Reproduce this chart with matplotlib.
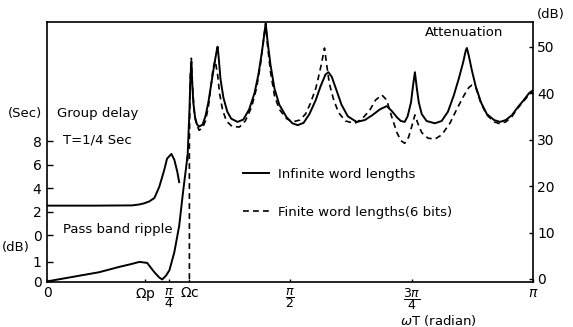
import numpy as np
import matplotlib
matplotlib.use("Agg")
import matplotlib.pyplot as plt

plt.rcParams['font.family'] = ['DejaVu Sans']
plt.rcParams['mathtext.fontset'] = 'dejavusans'

# Stop-band attenuation, infinite word lengths (omega/pi, dB)
att_inf_w = [0.289, 0.293, 0.295, 0.297, 0.299, 0.301, 0.305, 0.309, 0.313, 0.320,
             0.326, 0.332, 0.338, 0.344, 0.349, 0.351, 0.353, 0.357, 0.363, 0.371,
             0.379, 0.392, 0.404, 0.416, 0.427, 0.435, 0.441, 0.445, 0.450, 0.454,
             0.460, 0.468, 0.478, 0.493, 0.505, 0.516, 0.528, 0.540, 0.553, 0.563,
             0.573, 0.579, 0.586, 0.596, 0.606, 0.619, 0.637, 0.654, 0.670, 0.685,
             0.699, 0.709, 0.720, 0.728, 0.736, 0.742, 0.749, 0.753, 0.757, 0.761,
             0.765, 0.771, 0.781, 0.798, 0.812, 0.825, 0.837, 0.847, 0.856, 0.862,
             0.864, 0.868, 0.874, 0.882, 0.893, 0.905, 0.920, 0.932, 0.944, 0.957,
             0.969, 0.981, 0.992, 1.000]
att_inf_db = [25.6, 36.0, 43.0, 46.7, 42.0, 38.0, 34.5, 33.2, 32.8, 33.2,
              35.0, 38.0, 42.0, 46.0, 49.0, 50.0, 48.0, 43.0, 39.0, 36.0,
              34.5, 33.8, 34.3, 36.5, 40.0, 44.0, 48.0, 51.0, 55.0, 51.0,
              46.0, 41.0, 37.5, 34.8, 33.5, 33.1, 33.6, 35.5, 38.5, 41.5,
              44.0, 44.5, 43.5, 40.5, 37.5, 35.0, 33.8, 34.2, 35.3, 36.5,
              37.2, 36.2, 34.8, 34.0, 33.8, 35.0, 38.0, 41.5, 44.5, 41.0,
              38.0, 35.5, 34.0, 33.5, 34.0, 36.0, 39.5, 43.0, 46.5, 49.3,
              49.7, 48.0, 45.0, 41.5, 38.0, 35.5, 34.2, 33.8, 34.2, 35.3,
              37.0, 38.5, 40.0, 40.6]

# Stop-band attenuation, finite word lengths of 6 bits (omega/pi, dB)
att_fin_w = [0.293, 0.293, 0.295, 0.297, 0.299, 0.303, 0.307, 0.313, 0.320, 0.326,
             0.332, 0.338, 0.342, 0.346, 0.351, 0.355, 0.361, 0.369, 0.381, 0.396,
             0.408, 0.421, 0.431, 0.439, 0.445, 0.450, 0.454, 0.460, 0.468, 0.478,
             0.493, 0.505, 0.520, 0.532, 0.542, 0.553, 0.561, 0.567, 0.571, 0.575,
             0.581, 0.590, 0.600, 0.614, 0.633, 0.647, 0.664, 0.676, 0.689, 0.699,
             0.709, 0.720, 0.728, 0.736, 0.744, 0.751, 0.757, 0.763, 0.771, 0.784,
             0.798, 0.812, 0.829, 0.843, 0.858, 0.868, 0.874, 0.882, 0.893, 0.905,
             0.920, 0.932, 0.944, 0.957, 0.969, 0.981, 0.992, 1.000]
att_fin_db = [0.0, 30.0, 44.0, 47.5, 42.0, 36.0, 33.5, 32.0, 32.5, 34.0,
              37.0, 42.0, 45.5, 47.0, 44.0, 40.0, 36.5, 34.0, 32.8, 32.7,
              34.0, 37.0, 41.0, 46.0, 51.0, 55.0, 50.0, 44.5, 39.5, 36.5,
              34.5, 33.8, 34.2, 35.5, 37.8, 41.0, 44.5, 47.5, 49.7, 46.5,
              42.0, 38.5, 35.8, 34.0, 33.5, 34.3, 36.3, 38.5, 39.6, 38.5,
              35.0, 31.5, 29.8, 29.2, 30.5, 33.0, 35.3, 33.5, 31.5, 30.3,
              30.1, 31.0, 33.5, 36.5, 39.5, 41.2, 41.7, 41.3, 37.8, 35.3,
              33.8, 33.4, 33.8, 35.0, 36.8, 38.3, 39.7, 40.2]

# Group delay, T = 1/4 s (omega/pi, seconds)
gd_w = [0.0, 0.100, 0.175, 0.190, 0.200, 0.210, 0.221, 0.231, 0.241, 0.247,
        0.256, 0.262, 0.268, 0.272]
gd_sec = [2.5, 2.5, 2.52, 2.6, 2.7, 2.85, 3.15, 4.1, 5.5, 6.5,
          6.9, 6.4, 5.4, 4.5]

# Pass-band ripple (omega/pi, dB)
rip_w = [0.0, 0.107, 0.148, 0.175, 0.190, 0.206, 0.221, 0.231, 0.237, 0.245,
         0.252, 0.262, 0.272, 0.280, 0.289]
rip_db = [0.0, 0.47, 0.74, 0.9, 1.0, 0.95, 0.47, 0.2, 0.1, 0.3,
          0.58, 1.5, 2.85, 4.6, 6.4]

omega_p = 0.202
omega_c = 0.293
x_ticks = [0.0, omega_p, 0.25, omega_c, 0.5, 0.75, 1.0]
x_tick_labels = ['0', r'$\Omega$p', r'$\dfrac{\pi}{4}$', r'$\Omega$c',
                 r'$\dfrac{\pi}{2}$', r'$\dfrac{3\pi}{4}$', r'$\pi$']
att_ticks = [0, 10, 20, 30, 40, 50]
gd_ticks = [0, 2, 4, 6, 8]
rip_ticks = [0, 1]

W, H = 573, 327
fig = plt.figure(figsize=(W / 100, H / 100), dpi=100)
rect = [47 / W, 1 - 282 / H, 486 / W, 260 / H]

ax = fig.add_axes(rect)
ax_gd = fig.add_axes(rect, sharex=ax)
ax_rip = fig.add_axes(rect, sharex=ax)

pi = np.pi
lw = 1.4
dash_lw = 1.2
dash = (0, (3.5, 2.5))
ink = 'black'

# attenuation (right scale)
ax.plot(np.array(att_inf_w) * pi, att_inf_db, color=ink, lw=lw, solid_joinstyle='round')
ax.plot(np.array(att_fin_w) * pi, att_fin_db, color=ink, lw=dash_lw, linestyle=dash)
ax.set_xlim(0, pi)
ax.set_ylim(-0.65, 55.3)
ax.yaxis.tick_right()
ax.set_yticks(att_ticks)
ax.set_yticklabels([str(t) for t in att_ticks])
ax.tick_params(axis='y', direction='in', length=3, width=1, labelsize=10, pad=3)
ax.set_xticks(np.array(x_ticks) * pi)
ax.set_xticklabels(x_tick_labels)
ax.tick_params(axis='x', direction='in', length=2, width=1, labelsize=10, pad=3)
for lab in ax.get_xticklabels():
    if 'frac' in lab.get_text():
        lab.set_fontsize(9)
for s in ax.spines.values():
    s.set_linewidth(1.2)

# group delay (left scale)
ax_gd.plot(np.array(gd_w) * pi, gd_sec, color=ink, lw=lw)
ax_gd.set_ylim(-4.0, 18.13)
ax_gd.set_yticks(gd_ticks)
ax_gd.set_yticklabels([str(t) for t in gd_ticks])
ax_gd.tick_params(axis='y', direction='in', length=4, width=1, labelsize=10, pad=4)
ax_gd.tick_params(axis='x', bottom=False, labelbottom=False)
ax_gd.patch.set_visible(False)
for s in ax_gd.spines.values():
    s.set_visible(False)

# pass-band ripple (left scale, lower part)
ax_rip.plot(np.array(rip_w) * pi, rip_db, color=ink, lw=lw)
ax_rip.set_ylim(-0.03, 13.3)
ax_rip.set_yticks(rip_ticks)
ax_rip.set_yticklabels([str(t) for t in rip_ticks])
ax_rip.tick_params(axis='y', direction='in', length=4, width=1, labelsize=10, pad=4)
ax_rip.tick_params(axis='x', bottom=False, labelbottom=False)
ax_rip.patch.set_visible(False)
for s in ax_rip.spines.values():
    s.set_visible(False)

fs = 9.5
t = ax.transAxes
ax.text(-0.080, 0.650, '(Sec)', transform=t, fontsize=fs, va='center', ha='left')
ax.text(0.021, 0.650, 'Group delay', transform=t, fontsize=fs, va='center', ha='left')
ax.text(0.033, 0.546, 'T=1/4 Sec', transform=t, fontsize=fs, va='center', ha='left')
ax.text(0.033, 0.200, 'Pass band ripple', transform=t, fontsize=fs, va='center', ha='left')
ax.text(-0.093, 0.131, '(dB)', transform=t, fontsize=fs, va='center', ha='left')
ax.text(0.778, 0.958, 'Attenuation', transform=t, fontsize=fs, va='center', ha='left')
ax.text(1.008, 1.027, '(dB)', transform=t, fontsize=fs, va='center', ha='left')
ax.text(0.726, -0.148, r'$\omega$T (radian)', transform=t, fontsize=fs, va='center', ha='left')

ax.plot([], [], color=ink, lw=lw, label='Infinite word lengths')
ax.plot([], [], color=ink, lw=dash_lw, linestyle=dash, label='Finite word lengths(6 bits)')
ax.legend(loc='upper left', bbox_to_anchor=(0.403, 0.44), frameon=False, fontsize=fs,
          handlelength=2.0, handletextpad=0.7, labelspacing=1.9, borderpad=0, borderaxespad=0)

fig.savefig('out.png', dpi=100)
